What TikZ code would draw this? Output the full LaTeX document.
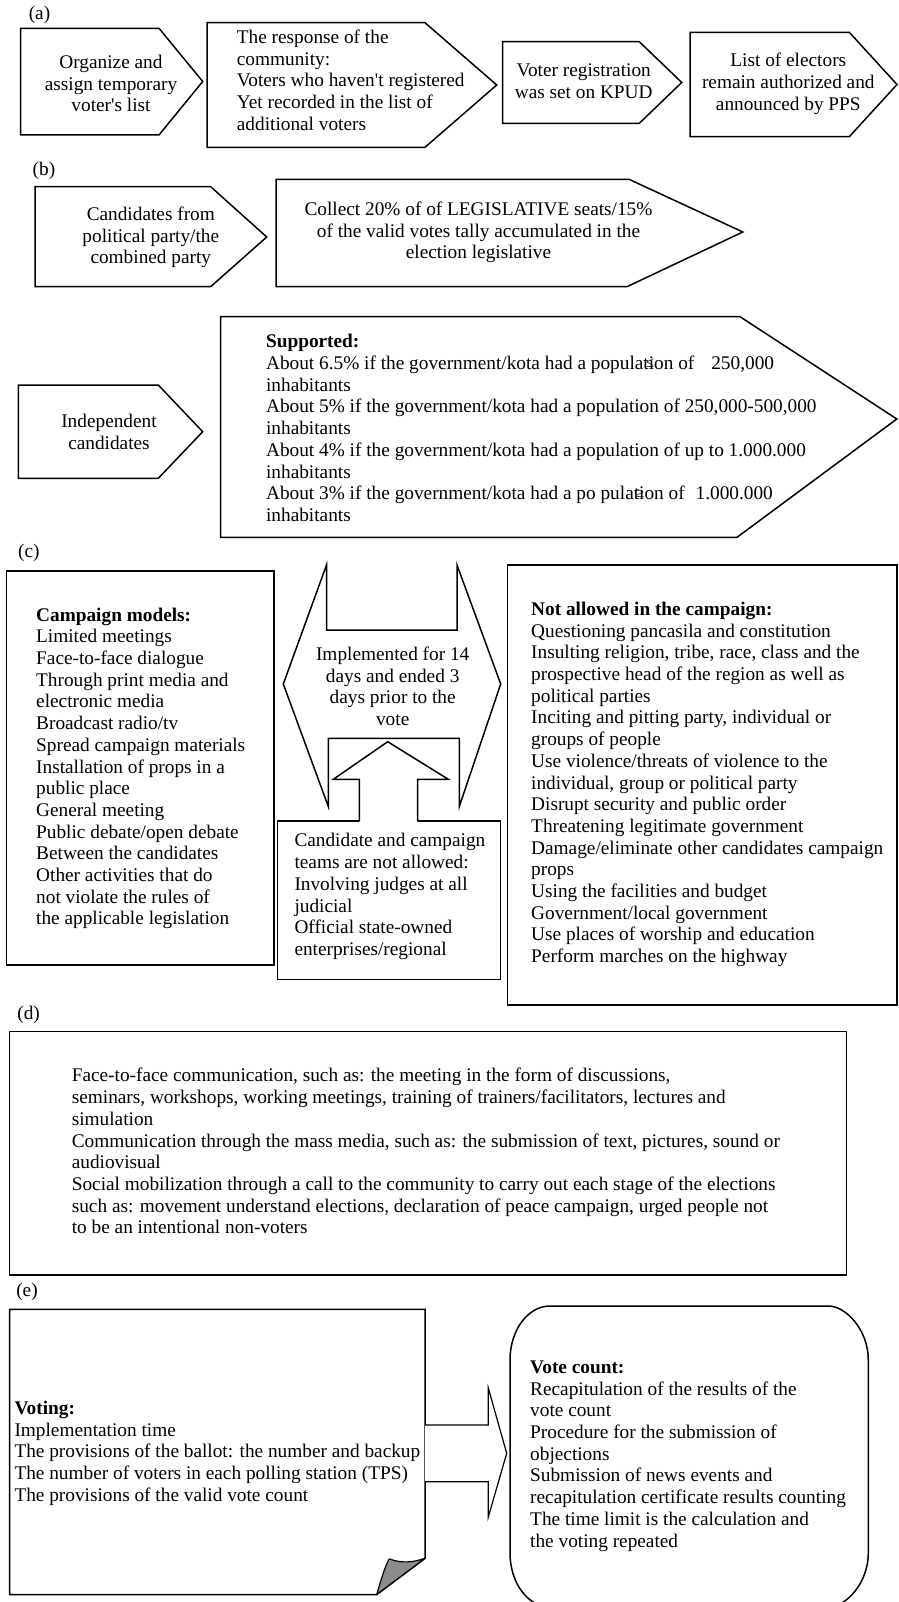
\documentclass[tikz,border=0pt]{standalone}
\usepackage{fontspec}
\setmainfont{Liberation Serif}
\begin{document}
\begin{tikzpicture}[x=1pt,y=-1pt,
  bx/.style={draw=black, line width=1.5pt, line join=miter, fill=white},
  txt/.style={inner sep=0pt, font=\fontsize{19.3}{21.7}\selectfont},
  lt/.style={txt, anchor=north west, align=left},
  ct/.style={txt, anchor=north, align=center},
  lab/.style={inner sep=0pt, font=\fontsize{19.3}{21.7}\selectfont}]
\useasboundingbox (0,0) rectangle (898,1602);
\fill[white] (0,0) rectangle (898,1602);

% ---------------- (a)
\node[lab] (la) at (39.5,15) {(a)};
\draw[bx] (20.7,28.3) -- (159,28.3) -- (202.7,81.5) -- (159,135) -- (20.7,135) -- cycle;
\draw[bx] (207,22.7) -- (425,22.7) -- (496.7,85) -- (425,147.3) -- (207,147.3) -- cycle;
\draw[bx] (502.7,41.7) -- (639.3,41.7) -- (681.7,82.5) -- (639.3,123.3) -- (502.7,123.3) -- cycle;
\draw[bx] (690,32.3) -- (849.3,32.3) -- (897,84.5) -- (849.3,136.7) -- (690,136.7) -- cycle;
\node[ct] (a1) at (111,53) {\strut Organize and\\assign temporary\\voter\textquotesingle s list};
\node[lt] (a2) at (236.7,28) {\strut The response of the\\community:\\Voters who haven\textquotesingle t registered\\Yet recorded in the list of\\additional voters};
\node[ct] (a3) at (583.7,61.5) {\strut Voter registration\\was set on KPUD};
\node[ct] (a4) at (788.3,51.5) {\strut List of electors\\remain authorized and\\announced by PPS};

% ---------------- (b)
\node[lab] (lb) at (44,170.7) {(b)};
\draw[bx] (35,186.7) -- (210.7,186.7) -- (266.7,237) -- (210.7,286.7) -- (35,286.7) -- cycle;
\draw[bx] (276,179.3) -- (629,179.3) -- (742.8,232) -- (627,286.7) -- (276,286.7) -- cycle;
\draw[bx] (18.3,385) -- (158.3,385) -- (202.7,431.7) -- (158.3,478.3) -- (18.3,478.3) -- cycle;
\draw[bx] (220.7,316.7) -- (740,316.7) -- (896.8,419) -- (737,537.3) -- (220.7,537.3) -- cycle;
\node[ct] (b1) at (150.8,205) {\strut Candidates from\\political party/the\\combined party};
\node[ct] (b2) at (478.5,200) {\strut Collect 20\% of of LEGISLATIVE seats/15\%\\of the valid votes tally accumulated in the\\election legislative};
\node[ct] (b3) at (109,412) {\strut Independent\\candidates};
\node[lt] (b4) at (265.9,332.5) {\strut\textbf{Supported:}\\
About 6.5\% if the government/kota had a populat\makebox[0pt][l]{\kern-3pt\raisebox{2pt}{\fontsize{15}{15}\selectfont ≤}}ion of\hspace{17pt}250,000\\
inhabitants\\
About 5\% if the government/kota had a population of 250,000-500,000\\
inhabitants\\
About 4\% if the government/kota had a population of up to 1.000.000\\
inhabitants\\
About 3\% if the government/kota had a po pulat\makebox[0pt][l]{\kern-3pt\raisebox{2pt}{\fontsize{15}{15}\selectfont ≥}}ion of\hspace{11pt}1.000.000\\
inhabitants};

% ---------------- (c)
\node[lab] (lc) at (28.8,553) {(c)};
\draw[bx] (6.7,571) rectangle (274,965);
\node[lt] (c1) at (36,605.8) {\strut\textbf{Campaign models:}\\Limited meetings\\Face-to-face dialogue\\Through print media and\\electronic media\\Broadcast radio/tv\\Spread campaign materials\\Installation of props in a\\public place\\General meeting\\Public debate/open debate\\Between the candidates\\Other activities that do\\not violate the rules of\\the applicable legislation};

\draw[bx] (326.5,565) -- (326.5,630) -- (457,630) -- (457,565) -- (500.7,684) -- (459.3,806.5) -- (459.3,738.3) -- (328.3,738.3) -- (328.3,806.5) -- (283.3,684) -- cycle;
\node[ct] (c2) at (392.7,645) {\strut Implemented for 14\\days and ended 3\\days prior to the\\vote};

\draw[bx, fill=none] (277.7,821) rectangle (500.7,979.3);
\fill[white] (359.3,822.5) -- (359.3,779.3) -- (333.3,779.3) -- (387.7,741.7) -- (448.3,779.3) -- (417.7,779.3) -- (417.7,822.5) -- cycle;
\draw[line width=1.5pt, line join=miter] (359.3,821) -- (359.3,779.3) -- (333.3,779.3) -- (387.7,741.7) -- (448.3,779.3) -- (417.7,779.3) -- (417.7,821);
\node[lt] (c3) at (294.3,831.5) {\strut Candidate and campaign\\teams are not allowed:\\Involving judges at all\\judicial\\Official state-owned\\enterprises/regional};

\draw[bx] (507.3,565) rectangle (897,1005);
\node[lt] (c4) at (531,600) {\strut\textbf{Not allowed in the campaign:}\\Questioning pancasila and constitution\\Insulting religion, tribe, race, class and the\\prospective head of the region as well as\\political parties\\Inciting and pitting party, individual or\\groups of people\\Use violence/threats of violence to the\\individual, group or political party\\Disrupt security and public order\\Threatening legitimate government\\Damage/eliminate other candidates campaign\\props\\Using the facilities and budget\\Government/local government\\Use places of worship and education\\Perform marches on the highway};

% ---------------- (d)
\node[lab] (ld) at (28.6,1015) {(d)};
\draw[bx] (9.7,1031.7) rectangle (846.5,1275);
\node[lt] (d1) at (71.6,1066.5) {\strut Face-to-face communication, such as: the meeting in the form of discussions,\\seminars, workshops, working meetings, training of trainers/facilitators, lectures and\\simulation\\Communication through the mass media, such as: the submission of text, pictures, sound or\\audiovisual\\Social mobilization through a call to the community to carry out each stage of the elections\\such as: movement understand elections, declaration of peace campaign, urged people not\\to be an intentional non-voters};

% ---------------- (e)
\node[lab] (le) at (27,1292) {(e)};
\draw[bx] (376.7,1594.5) -- (9.7,1594.5) -- (9.7,1309.3) -- (425,1309.3) -- (425,1558.3) -- cycle;
\draw[line width=1.2pt, line join=round, fill=black!45] (376.7,1594.5) .. controls (381,1580) and (385,1566) .. (389.3,1558.8) .. controls (401,1563.5) and (413,1562.5) .. (425,1558.3) -- cycle;
\node[lt] (e1) at (14.3,1399) {\strut\textbf{Voting:}\\Implementation time\\The provisions of the ballot: the number and backup\\The number of voters in each polling station (TPS)\\The provisions of the valid vote count};

\fill[white] (425,1425) -- (488.3,1425) -- (488.3,1388) -- (506.7,1453.3) -- (488.3,1517) -- (488.3,1481.7) -- (425,1481.7) -- cycle;
\draw[line width=1.2pt, line join=miter] (425,1425) -- (488.3,1425) -- (488.3,1388) -- (506.7,1453.3) -- (488.3,1517) -- (488.3,1481.7) -- (425,1481.7);

\draw[bx] (510,1360) .. controls (510,1330.2) and (527.9,1306) .. (550,1306) -- (828.3,1306) .. controls (846.2,1306) and (868.3,1330.2) .. (868.3,1360) -- (868.3,1553) .. controls (868.3,1582.8) and (846.2,1607) .. (828.3,1607) -- (550,1607) .. controls (527.9,1607) and (510,1582.8) .. (510,1553) -- cycle;
\node[lt] (e2) at (530,1358) {\strut\textbf{Vote count:}\\Recapitulation of the results of the\\vote count\\Procedure for the submission of\\objections\\Submission of news events and\\recapitulation certificate results counting\\The time limit is the calculation and\\the voting repeated};
\end{tikzpicture}
\end{document}
